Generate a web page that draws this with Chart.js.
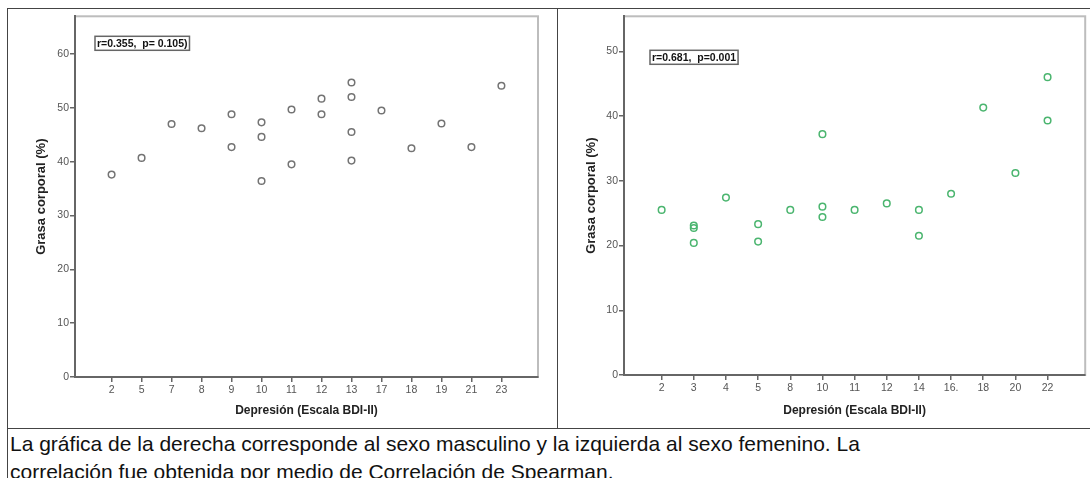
<!DOCTYPE html>
<html>
<head>
<meta charset="utf-8">
<script src="https://cdn.jsdelivr.net/npm/chart.js@4.4.0/dist/chart.umd.min.js"></script>
<style>
  body { margin: 0; background: #fff; width: 1090px; height: 478px; overflow: hidden; position: relative; }
  .line { position: absolute; background: #444; }
  .box { position: absolute; }
  #caption {
    position: absolute; left: 10px; top: 430px;
    font-family: "Liberation Sans", Arial, sans-serif; font-size: 21px; line-height: 28px;
    color: #111; white-space: nowrap;
  }
</style>
</head>
<body>
<div class="line" style="left:7px;top:8px;width:1083px;height:1px"></div>
<div class="line" style="left:7px;top:8px;width:1px;height:470px"></div>
<div class="line" style="left:557px;top:8px;width:1px;height:420px"></div>
<div class="line" style="left:7px;top:428px;width:1083px;height:1px"></div>

<div class="box" style="left:8px;top:9px;width:548px;height:419px"><canvas id="leftChart"></canvas></div>
<div class="box" style="left:558px;top:9px;width:532px;height:419px"><canvas id="rightChart"></canvas></div>

<div id="caption">La gráfica de la derecha corresponde al sexo masculino y la izquierda al sexo femenino. La<br>correlación fue obtenida por medio de Correlación de Spearman.</div>

<script>
// left chart (femenino)
const femaleLabels = ['2', '5', '7', '8', '9', '10', '11', '12', '13', '17', '18', '19', '21', '23'];
const femaleX = ['2', '5', '7', '8', '9', '9', '10', '10', '10', '11', '11', '12', '12',
  '13', '13', '13', '13', '17', '18', '19', '21', '23'];
const femaleY = [37.6, 40.7, 47.0, 46.2, 48.8, 42.7, 47.3, 44.6, 36.4, 49.7, 39.5, 51.7, 48.8,
  54.7, 52.0, 45.5, 40.2, 49.5, 42.5, 47.1, 42.7, 54.1];
const femaleNote = 'r=0.355,  p= 0.105)';

// right chart (masculino)
const maleLabels = ['2', '3', '4', '5', '8', '10', '11', '12', '14', '16.', '18', '20', '22'];
const maleX = ['2', '3', '3', '3', '4', '5', '5', '8', '10', '10', '10', '11', '12',
  '14', '14', '16.', '18', '20', '22', '22'];
const maleY = [25.5, 23.1, 22.7, 20.4, 27.4, 23.3, 20.6, 25.5, 37.2, 26.0, 24.4, 25.5, 26.5,
  25.5, 21.5, 28.0, 41.3, 31.2, 46.0, 39.3];
const maleNote = 'r=0.681,  p=0.001';

const xTitle = 'Depresión (Escala BDI-II)';
const yTitle = 'Grasa corporal (%)';

// frame around plot area (light gray top/right)
const framePlugin = {
  id: 'frame',
  beforeDraw(chart) {
    const { ctx, chartArea: a } = chart;
    ctx.save();
    ctx.strokeStyle = '#bdbdbd';
    ctx.lineWidth = 2;
    ctx.strokeRect(a.left, a.top, a.right - a.left, a.bottom - a.top);
    ctx.restore();
  }
};

// r / p text box
const notePlugin = {
  id: 'note',
  afterDraw(chart, args, opts) {
    const { ctx, chartArea: a } = chart;
    ctx.save();
    ctx.font = 'bold 10.5px "Liberation Sans", Arial, sans-serif';
    const w = ctx.measureText(opts.text).width + 4;
    const x = a.left + opts.dx, y = a.top + opts.dy;
    ctx.strokeStyle = '#666';
    ctx.lineWidth = 1.5;
    ctx.strokeRect(x, y, w, 14);
    ctx.fillStyle = '#111';
    ctx.textBaseline = 'middle';
    ctx.fillText(opts.text, x + 2, y + 7.5);
    ctx.restore();
  }
};

function makeChart(id, labels, xs, ys, color, yMax, xPad, note, pad, xAxisH, yAxisW) {
  const points = xs.map((x, i) => ({ x: labels.indexOf(x), y: ys[i] }));
  const tickFont = { family: '"Liberation Sans", Arial, sans-serif', size: 10.5 };
  const xTitleFont = { family: '"Liberation Sans", Arial, sans-serif', size: 12, weight: 'bold' };
  const yTitleFont = { family: '"Liberation Sans", Arial, sans-serif', size: 13, weight: 'bold' };
  return new Chart(document.getElementById(id), {
    type: 'scatter',
    data: {
      datasets: [{
        data: points,
        pointRadius: 3.3,
        pointHoverRadius: 3.3,
        borderWidth: 1.5,
        borderColor: color,
        backgroundColor: 'rgba(0,0,0,0)'
      }]
    },
    options: {
      responsive: true,
      maintainAspectRatio: false,
      animation: false,
      layout: { padding: pad },
      plugins: {
        legend: { display: false },
        tooltip: { enabled: false },
        note: note
      },
      scales: {
        x: {
          type: 'linear',
          min: -xPad,
          max: labels.length - 1 + xPad,
          afterBuildTicks: axis => { axis.ticks = labels.map((_, i) => ({ value: i })); },
          afterFit: axis => { axis.height = xAxisH; },
          ticks: {
            callback: v => labels[v],
            color: '#555',
            font: tickFont,
            padding: 2,
            maxRotation: 0,
            autoSkip: false
          },
          grid: { display: true, drawOnChartArea: false, drawTicks: true, tickLength: 5, color: '#666', lineWidth: 1.5 },
          border: { display: true, color: '#666', width: 2 },
          title: { display: true, text: xTitle, color: '#222', font: xTitleFont, padding: { top: 0, bottom: 10 } }
        },
        y: {
          min: 0,
          max: yMax,
          afterFit: axis => { axis.width = yAxisW; },
          ticks: { stepSize: 10, includeBounds: false, color: '#555', font: tickFont, padding: 1 },
          grid: { display: true, drawOnChartArea: false, drawTicks: true, tickLength: 5, color: '#666', lineWidth: 1.5 },
          border: { display: true, color: '#666', width: 2 },
          title: { display: true, text: yTitle, color: '#222', font: yTitleFont, padding: { top: 26, bottom: 0 } }
        }
      }
    },
    plugins: [framePlugin, notePlugin]
  });
}

makeChart('leftChart', femaleLabels, femaleX, femaleY, '#747474', 67, 1.22,
  { text: femaleNote, dx: 20, dy: 20 }, { top: 6, right: 18, left: 0, bottom: 0 }, 51, 67);
makeChart('rightChart', maleLabels, maleX, maleY, '#4bb56f', 55.4, 1.17,
  { text: maleNote, dx: 26, dy: 34 }, { top: 5, right: 3, left: 0, bottom: 0 }, 53, 66);
</script>
</body>
</html>
